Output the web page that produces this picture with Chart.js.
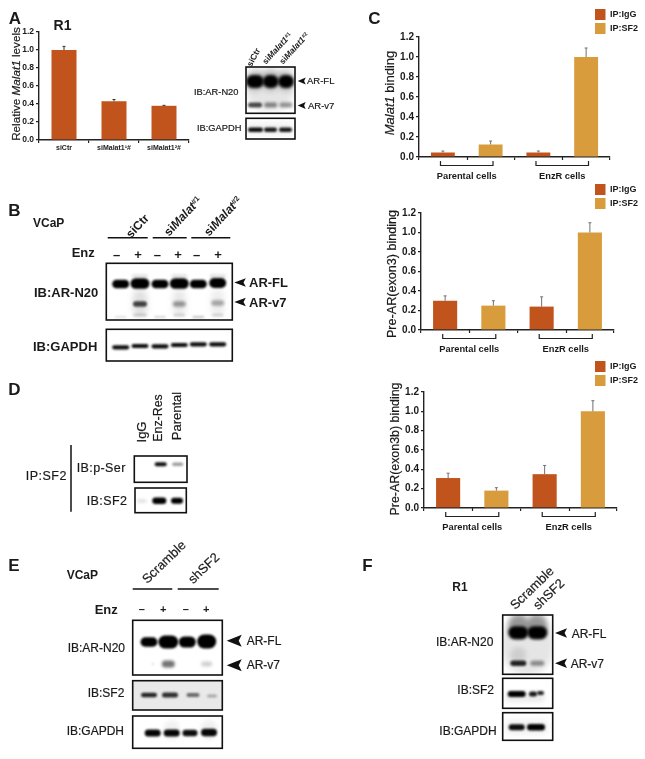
<!DOCTYPE html>
<html><head><meta charset="utf-8">
<script src="https://cdn.jsdelivr.net/npm/chart.js@4"></script>
<style>
html,body{margin:0;padding:0;background:#fff;}
#page{position:relative;width:645px;height:759px;overflow:hidden;font-family:"Liberation Sans",Arial,sans-serif;color:#1a1a1a;}
#page canvas{position:absolute;}
.t{position:absolute;white-space:nowrap;line-height:1;}
.n{-webkit-text-stroke:.2px #1a1a1a;}
sup{font-size:.62em;line-height:0;vertical-align:.45em;}
</style></head><body><div id="page"></div>
<script>
// ---------- data ----------
const yTicksMax = 1.2;
const legendLabels = ["IP:IgG", "IP:SF2"];
const groups = ["Parental cells", "EnzR cells"];

const aCategories = ["siCtr", "siMalat1\u00B9#", "siMalat1\u00B2#"];
const aValues = [1.0, 0.43, 0.38];
const aErrors = [0.04, 0.02, 0.005];

const malatIgG = [0.045, 0.045];
const malatSF2 = [0.125, 1.0];
const malatIgGErr = [0.015, 0.015];
const malatSF2Err = [0.035, 0.09];

const exon3IgG = [0.30, 0.24];
const exon3SF2 = [0.25, 1.0];
const exon3IgGErr = [0.05, 0.10];
const exon3SF2Err = [0.05, 0.10];

const exon3bIgG = [0.31, 0.35];
const exon3bSF2 = [0.18, 1.0];
const exon3bIgGErr = [0.05, 0.09];
const exon3bSF2Err = [0.03, 0.11];

const RUST = "#C1541D", GOLD = "#D99C3C", INK = "#1a1a1a";
const page = document.getElementById("page");

// ---------- text helper ----------
function T(html, x, y, o) {
  o = o || {};
  const e = document.createElement("div");
  e.className = o.b ? "t" : "t n";
  e.innerHTML = html;
  e.style.left = x + "px"; e.style.top = y + "px";
  e.style.fontSize = (o.s || 12) + "px";
  e.style.fontWeight = o.b ? "bold" : "normal";
  if (o.ls) e.style.letterSpacing = o.ls + "px";
  const rot = o.r || 0;
  if (o.from) {
    e.style.transformOrigin = "0 50%";
    e.style.transform = "translateY(-50%) rotate(" + rot + "deg)";
  } else if (o.left) {
    e.style.transform = "translateY(-50%)";
  } else {
    e.style.transform = "translate(-50%,-50%) rotate(" + rot + "deg)";
  }
  page.appendChild(e);
}

// ---------- plugins working from the library's scales ----------
const errorBars = {
  id: "errorBars",
  afterDatasetsDraw(chart) {
    const c = chart.ctx, ys = chart.scales.y;
    chart.data.datasets.forEach((d, i) => {
      const meta = chart.getDatasetMeta(i);
      meta.data.forEach((bar, k) => {
        const top = ys.getPixelForValue(d.data[k] + d.errors[k]);
        const base = ys.getPixelForValue(d.data[k]);
        c.save();
        c.strokeStyle = d.errColor || "#707070"; c.lineWidth = 1;
        c.beginPath();
        c.moveTo(bar.x, base); c.lineTo(bar.x, top);
        c.moveTo(bar.x - 1.5, top); c.lineTo(bar.x + 1.5, top);
        c.stroke(); c.restore();
      });
    });
  }
};
const groupMarks = {
  id: "groupMarks",
  afterDraw(chart) {
    if (!chart.options.plugins.groupMarks.on) return;
    const c = chart.ctx, xs = chart.scales.x, a = chart.chartArea;
    const w = a.right - a.left, cw = w / xs.ticks.length;
    c.save(); c.strokeStyle = "#222"; c.lineWidth = 1.2;
    [0.25, 0.75].forEach(f => {
      const px = Math.round(a.left + w * f) + .5;
      c.beginPath(); c.moveTo(px, a.bottom); c.lineTo(px, a.bottom + 3); c.stroke();
    });
    xs.ticks.forEach((t, i) => {
      const m = xs.getPixelForTick(i), h = cw * 0.275;
      c.beginPath();
      c.moveTo(m - h, a.bottom + 4); c.lineTo(m - h, a.bottom + 8.5);
      c.lineTo(m + h, a.bottom + 8.5); c.lineTo(m + h, a.bottom + 4);
      c.stroke();
    });
    c.restore();
  }
};
const legendHeight = {
  id: "legendHeight",
  beforeInit(chart) {
    const h = chart.options.plugins.legendHeight.h;
    if (!h || !chart.legend) return;
    const f = chart.legend.fit;
    chart.legend.fit = function () { this.maxWidth = 60; f.call(this); this.height = h; };
  },
  afterLayout(chart) {
    const o = chart.options.plugins.legendHeight;
    if (!o.h || !chart.legend) return;
    chart.legend.left = o.x;
    chart.legend.right = chart.width;
  }
};

function makeChart(o) {
  const yw = 40, cv = document.createElement("canvas");
  const left = o.x0 - yw, right = o.right || (o.x1 + 8), top = o.canvasTop;
  const H = o.y1 - top + o.below;
  cv.width = right - left; cv.height = H;
  cv.style.left = left + "px"; cv.style.top = top + "px";
  page.appendChild(cv);
  new Chart(cv.getContext("2d"), {
    type: "bar",
    data: { labels: o.labels, datasets: o.datasets },
    plugins: [errorBars, groupMarks, legendHeight],
    options: {
      responsive: false, animation: false, devicePixelRatio: 1,
      layout: { autoPadding: false, padding: { left: 0, right: right - o.x1, bottom: 0, top: o.legend ? 0 : o.y0 - top } },
      plugins: {
        tooltip: { enabled: false },
        groupMarks: { on: !!o.legend },
        legendHeight: { h: o.legend ? o.y0 - top : 0, x: 595 - 3 - left },
        legend: o.legend ? {
          display: true, position: "top", align: "start",
          labels: { boxWidth: 10.5, boxHeight: 11, padding: 3, color: INK, font: { family: "Liberation Sans", size: 9, weight: "bold" } }
        } : { display: false }
      },
      scales: {
        x: {
          afterFit(s) { s.height = o.below; },
          grid: { drawOnChartArea: false, tickLength: 3, color: "#222", lineWidth: 1.2 },
          border: { color: "#222", width: 1.4 },
          ticks: { color: INK, padding: o.tickPad, maxRotation: 0, autoSkip: false, font: { family: "Liberation Sans", size: o.xFont, weight: "bold" } }
        },
        y: {
          min: 0, max: yTicksMax,
          afterFit(s) { s.width = yw; },
          grid: { drawOnChartArea: false, tickLength: 3, color: "#222", lineWidth: 1.2 },
          border: { color: "#222", width: 1.4 },
          ticks: { stepSize: 0.2, color: INK, padding: 2, callback: v => v.toFixed(1), font: { family: "Liberation Sans", size: o.yFont, weight: "bold" } }
        }
      }
    }
  });
}
function pair(igg, sf2, e1, e2) {
  return [
    { label: legendLabels[0], data: igg, errors: e1, backgroundColor: RUST, categoryPercentage: 1, barPercentage: 0.5 },
    { label: legendLabels[1], data: sf2, errors: e2, backgroundColor: GOLD, categoryPercentage: 1, barPercentage: 0.5 }
  ];
}

makeChart({ x0: 39, x1: 189, y0: 32, y1: 140, canvasTop: 20, below: 16, tickPad: 1, xFont: 7, yFont: 8.5,
  labels: aCategories, datasets: [{ label: "Malat1", data: aValues, errors: aErrors, errColor: "#333", backgroundColor: RUST, categoryPercentage: 1, barPercentage: 0.5 }] });
makeChart({ x0: 419, x1: 610, right: 641, y0: 37, y1: 157, canvasTop: 6, below: 24, tickPad: 11, xFont: 9.3, yFont: 10, legend: true,
  labels: groups, datasets: pair(malatIgG, malatSF2, malatIgGErr, malatSF2Err) });
makeChart({ x0: 421, x1: 614, right: 641, y0: 213, y1: 330, canvasTop: 181, below: 24, tickPad: 11, xFont: 9.3, yFont: 10, legend: true,
  labels: groups, datasets: pair(exon3IgG, exon3SF2, exon3IgGErr, exon3SF2Err) });
makeChart({ x0: 424, x1: 617, right: 641, y0: 392, y1: 508, canvasTop: 358, below: 24, tickPad: 11, xFont: 9.3, yFont: 10, legend: true,
  labels: groups, datasets: pair(exon3bIgG, exon3bSF2, exon3bIgGErr, exon3bSF2Err) });

// ---------- blots (photographic panels, background layer) ----------
const bg = document.createElement("canvas");
bg.width = 645; bg.height = 759; bg.style.left = "0"; bg.style.top = "0";
page.appendChild(bg);
const g = bg.getContext("2d");

function band(cx, cy, hw, h, a, b) {
  g.save();
  g.filter = "blur(" + (b == null ? 1 : b) + "px)";
  g.fillStyle = "rgba(0,0,0," + a + ")";
  g.beginPath();
  g.roundRect(cx - hw, cy - h / 2, hw * 2, h, h / 2);
  g.fill();
  g.restore();
}
function blot(x0, y0, x1, y1, bands, fill, lw) {
  g.save();
  g.beginPath(); g.rect(x0, y0, x1 - x0, y1 - y0); g.clip();
  if (fill) { g.fillStyle = fill; g.fillRect(x0, y0, x1 - x0, y1 - y0); }
  bands.forEach(b => band.apply(null, b));
  g.restore();
  g.strokeStyle = "#111"; g.lineWidth = lw || 1.6;
  g.strokeRect(x0, y0, x1 - x0, y1 - y0);
}
function arrow(tip, y, len, h) {
  g.fillStyle = "#111";
  g.beginPath();
  g.moveTo(tip, y); g.lineTo(tip + len, y - h / 2); g.lineTo(tip + len * .8, y); g.lineTo(tip + len, y + h / 2);
  g.closePath(); g.fill();
}
function rule(x0, x1, y, lw) {
  g.strokeStyle = "#111"; g.lineWidth = lw || 1.5;
  g.beginPath(); g.moveTo(x0, y); g.lineTo(x1, y); g.stroke();
}

// Panel A blots
blot(246, 67, 295, 113.3, [
  [270, 90, 24, 40, .1, 3],
  [255, 81.5, 9, 13, 1, 1.8], [270.7, 81.5, 8, 13, 1, 1.8], [286, 81.5, 8, 13, 1, 1.8],
  [255, 80, 9, 22, .2, 3], [270.7, 80, 8, 22, .2, 3], [286, 80, 8, 22, .2, 3],
  [255, 105, 7, 5, .7, 1.3], [270.7, 105, 6.5, 5, .45, 1.4], [286, 105, 6.5, 5, .4, 1.4]
]);
blot(246, 118.3, 295, 139, [
  [255.5, 129.7, 7.5, 4.4, .95, 1], [270.5, 129.7, 6.5, 4.4, .9, 1], [285.5, 129.7, 6.5, 4.4, .9, 1], [270, 129, 24, 12, .06, 3]
]);
arrow(297.7, 81, 8, 7); arrow(297.7, 105.5, 8, 7);

// Panel B blots
const bLanes = [120.7, 140, 160, 179.3, 198.3, 217.7];
blot(106.3, 263.3, 232.3, 320, [
  [bLanes[0], 284, 8.5, 8.5, 1, 1.1], [bLanes[1], 283.5, 9.5, 10.5, 1, 1.1], [bLanes[2], 284, 8.5, 8.5, 1, 1.1],
  [bLanes[3], 283.5, 9.5, 10.5, 1, 1.1], [bLanes[4], 284, 8.5, 8.5, 1, 1.1], [bLanes[5], 283, 8.5, 10, 1, 1.1],
  [bLanes[1], 303, 7, 28, .12, 3], [bLanes[3], 303, 6.5, 28, .09, 3], [bLanes[5], 303, 6.5, 28, .07, 3],
  [bLanes[1], 304, 7, 5.5, .72, 1.3], [bLanes[3], 304, 6.5, 5.5, .38, 1.5], [bLanes[5], 303, 6.5, 5.5, .32, 1.5],
  [bLanes[0], 317, 6, 2, .12, 1], [bLanes[2], 317, 6, 2, .16, 1], [bLanes[4], 317, 6, 2, .24, 1],
  [bLanes[1], 315, 7, 3, .16, 1.2], [bLanes[3], 315, 6, 3, .14, 1.2], [bLanes[5], 315, 6, 3, .14, 1.2],
  [bLanes[1], 276, 8, 3, .14, 1.8], [bLanes[3], 276, 8, 3, .14, 1.8], [bLanes[5], 276, 8, 3, .14, 1.8]
]);
const bGap = [347.3, 346, 346.3, 345, 344.3, 344.3];
blot(106.3, 329.3, 232.3, 361, bLanes.map((x, i) => [x, bGap[i], 8.5, 4.2, .95, .9]));
arrow(234.3, 282.5, 11.5, 8.5); arrow(234.3, 302, 11.5, 8.5);
rule(107.7, 147.7, 237.7); rule(152.7, 186.7, 237.7); rule(191.3, 230.3, 237.7);

// Panel D blots
g.strokeStyle = "#111"; g.lineWidth = 1.5;
g.beginPath(); g.moveTo(71, 445); g.lineTo(71, 511.7); g.stroke();
blot(134.3, 456, 187, 482.3, [
  [160.7, 464.3, 6, 4, .95, 1], [177.7, 464.3, 5.5, 3.4, .38, 1.1]
]);
blot(135, 488, 186.3, 512.7, [
  [141.7, 501, 5, 3.5, .12, 1.4], [159.3, 500.7, 7, 6.5, 1, 1], [177, 500.7, 6, 6, 1, 1]
]);

// Panel E blots
const eLanes = [149, 168.3, 187.3, 206.7];
blot(132.7, 620.3, 222.3, 675, [
  [eLanes[0], 642, 8.5, 9.5, 1, 1.1], [eLanes[1], 642, 10, 13, 1, 1.2], [eLanes[2], 642, 8.5, 11, 1, 1.1], [eLanes[3], 641.5, 9.5, 14, 1, 1.2],
  [eLanes[1], 664, 6.5, 7, .55, 1.4], [eLanes[3], 664, 5.5, 5, .18, 1.5], [153, 664, 1.5, 2, .12, 1]
]);
blot(132.7, 680.7, 222.3, 710, [
  [149, 695, 8, 4.6, .85, 1], [170, 695, 8, 5, .8, 1], [193, 695, 6.5, 4, .55, 1.1], [212, 696, 5, 3, .28, 1.1]
], "#e9e9e9");
blot(132.7, 716, 222.3, 748.3, [
  [152.7, 733, 8, 7, .98, 1], [171.7, 733, 8, 7, .98, 1], [190, 733, 7.5, 6.5, .95, 1], [209, 732.5, 8, 7.5, .98, 1],
  [171.7, 730, 8, 20, .05, 2], [209, 730, 8, 20, .06, 2]
]);
arrow(226.7, 640.7, 15, 12); arrow(226.7, 665.3, 15, 12);
rule(132.7, 172.3, 589); rule(177.7, 218.7, 589);

// Panel F blots
blot(502.7, 615, 552.7, 674.3, [
  [527.5, 645, 26, 60, .1, 3],
  [518.3, 626, 10, 24, .35, 2.5], [537.3, 626, 10, 24, .35, 2.5],
  [518.3, 632.7, 10, 13, 1, 1.4], [537.3, 632.7, 10, 13, 1, 1.4],
  [518.3, 655, 8, 16, .1, 2.5],
  [518.3, 663.3, 8, 5.5, .85, 1.3], [537.3, 663.3, 7, 5, .42, 1.4]
]);
blot(502.7, 678.3, 552.7, 708.3, [
  [525, 697, 20, 10, .08, 2.5],
  [516.7, 694, 9, 6, 1, 1.1], [533, 694, 4, 5, .9, .9], [540.5, 693, 3.5, 4, .85, .9]
]);
blot(502.7, 712.7, 552.7, 740.3, [
  [527, 727, 22, 14, .06, 3],
  [516.7, 727.3, 8, 6, .95, 1], [536, 727.3, 9, 6.5, 1, 1]
]);
arrow(555, 633, 12, 9.5); arrow(555, 663.3, 12, 9.5);

// ---------- labels ----------
T("A", 15, 17.5, { s: 17, b: 1 });
T("B", 14.5, 209.5, { s: 17, b: 1 });
T("C", 374.5, 18, { s: 17, b: 1 });
T("D", 14.5, 389, { s: 17, b: 1 });
T("E", 14, 565, { s: 17, b: 1 });
T("F", 367.5, 565, { s: 17, b: 1 });

// A
T("R1", 62.5, 25, { s: 14, b: 1 });
T("Relative <i>Malat1</i> levels", 16, 84, { s: 11.7, r: -90 });
T("siCtr", 249, 66, { s: 8.5, b: 1, r: -62, from: 1 });
T("si<i>Malat1</i><sup>#1</sup>", 264, 63, { s: 8.5, b: 1, r: -48, from: 1 });
T("si<i>Malat1</i><sup>#2</sup>", 281, 63, { s: 8.5, b: 1, r: -48, from: 1 });
T("IB:AR-N20", 194, 92.7, { s: 9.3, left: 1 });
T("IB:GAPDH", 197, 128.5, { s: 9.3, left: 1 });
T("AR-FL", 307, 81, { s: 9.5, left: 1 });
T("AR-v7", 308, 105.8, { s: 9.5, left: 1 });

// B
T("VCaP", 33, 223, { s: 12, b: 1, left: 1 });
T("siCtr", 128, 236, { s: 12, b: 1, r: -47, from: 1 });
T("si<i>Malat</i><sup>#1</sup>", 166, 234, { s: 12, b: 1, r: -47, from: 1 });
T("si<i>Malat</i><sup>#2</sup>", 206, 234, { s: 12, b: 1, r: -47, from: 1 });
T("Enz", 71.7, 252, { s: 13, b: 1, left: 1 });
["\u2013", "+", "\u2013", "+", "\u2013", "+"].forEach((m, i) => T(m, [116.7, 138, 157.3, 178, 196.7, 218][i], 254.3, { s: 13, b: 1 }));
T("IB:AR-N20", 34, 292.3, { s: 13, b: 1, left: 1 });
T("IB:GAPDH", 33, 345.7, { s: 13, b: 1, left: 1 });
T("AR-FL", 249, 282.3, { s: 13, b: 1, left: 1 });
T("AR-v7", 249, 302, { s: 13, b: 1, left: 1 });

// C axis titles
T("<i>Malat1</i> binding", 389, 93, { s: 13, r: -90 });
T("Pre-AR(exon3) binding", 391.7, 273.5, { s: 12.6, r: -90 });
T("Pre-AR(exon3b) binding", 395, 448.7, { s: 12.4, r: -90 });

// D
T("IgG", 141.3, 431.5, { s: 13, r: -90 });
T("Enz-Res", 158.3, 418, { s: 12.4, r: -90 });
T("Parental", 175.7, 416, { s: 13, r: -90 });
T("IP:SF2", 25.7, 476, { s: 12.5, ls: .5, left: 1 });
T("IB:p-Ser", 76.7, 468.3, { s: 12.5, ls: .4, left: 1 });
T("IB:SF2", 86.7, 501, { s: 12.5, ls: .4, left: 1 });

// E
T("VCaP", 66.7, 575, { s: 12, b: 1, left: 1 });
T("Scramble", 143.5, 581, { s: 13, r: -44, from: 1 });
T("shSF2", 190, 581, { s: 13, r: -44, from: 1 });
T("Enz", 94.7, 609, { s: 13, b: 1, left: 1 });
["\u2013", "+", "\u2013", "+"].forEach((m, i) => T(m, [141.7, 163.3, 185.7, 206.3][i], 609, { s: 11, b: 1 }));
T("IB:AR-N20", 67.7, 648.3, { s: 12, left: 1 });
T("IB:SF2", 87.7, 692.7, { s: 12, left: 1 });
T("IB:GAPDH", 66.7, 730.7, { s: 12, left: 1 });
T("AR-FL", 246.7, 641, { s: 12, left: 1 });
T("AR-v7", 246.7, 665.3, { s: 12, left: 1 });

// F
T("R1", 460, 587, { s: 12, b: 1 });
T("Scramble", 512, 606.5, { s: 13, r: -44, from: 1 });
T("shSF2", 535, 607, { s: 13, r: -44, from: 1 });
T("IB:AR-N20", 436, 641.7, { s: 12, left: 1 });
T("IB:SF2", 457.3, 690, { s: 12, left: 1 });
T("IB:GAPDH", 439.3, 730.7, { s: 12, left: 1 });
T("AR-FL", 571.7, 634, { s: 12, left: 1 });
T("AR-v7", 570.7, 664, { s: 12, left: 1 });
</script></body></html>
